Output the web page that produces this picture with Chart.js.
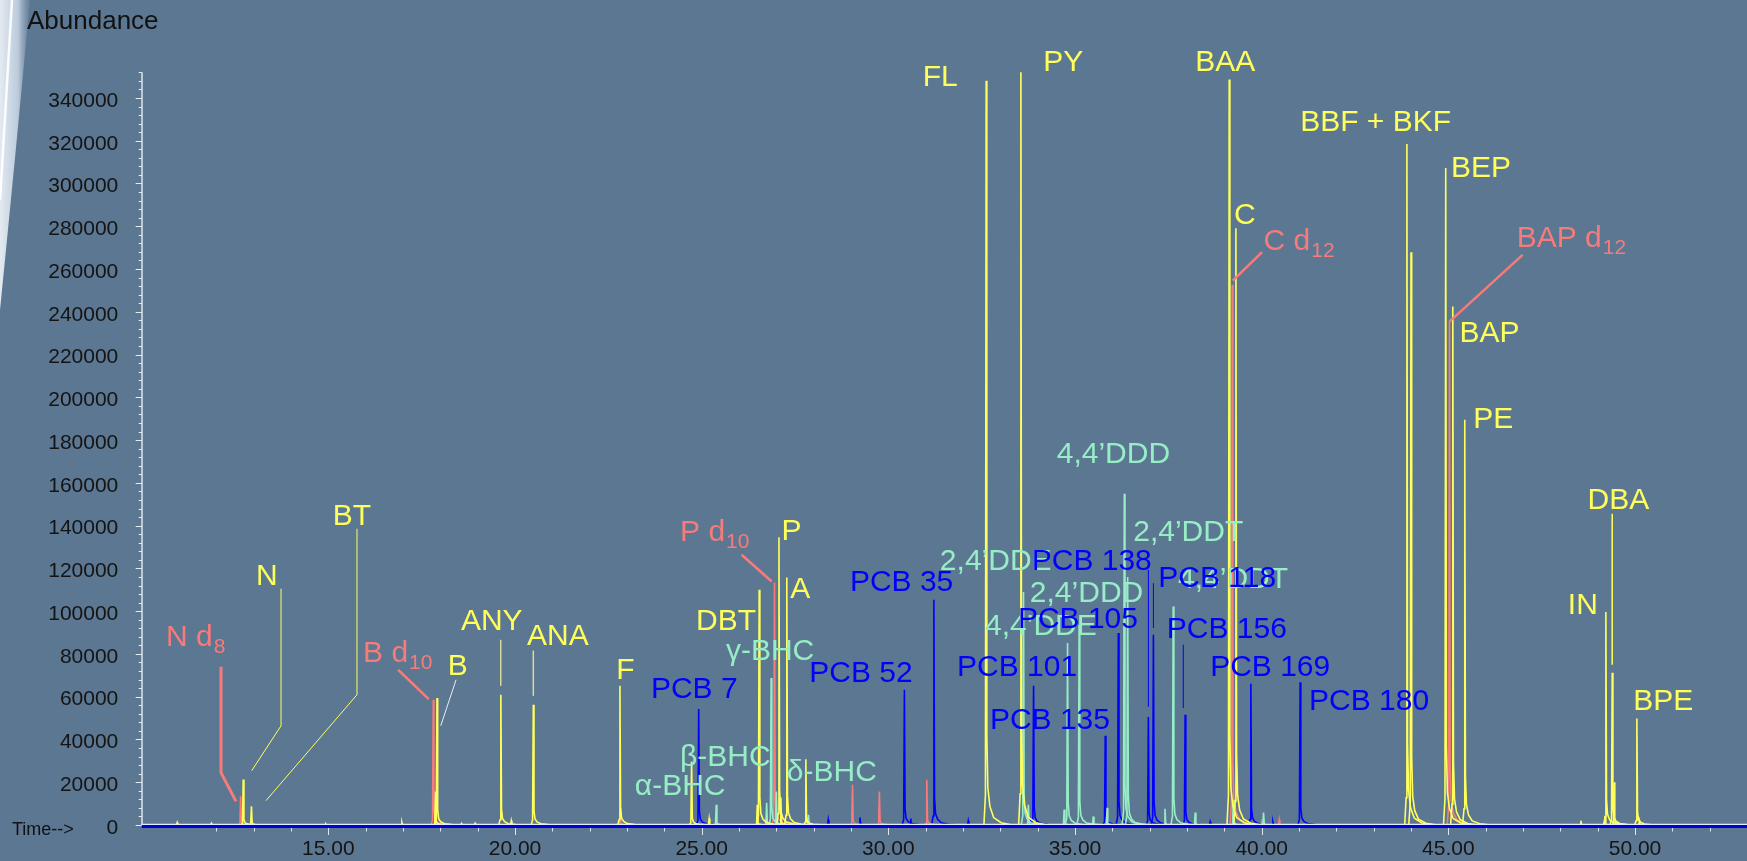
<!DOCTYPE html>
<html>
<head>
<meta charset="utf-8">
<script src="https://cdn.jsdelivr.net/npm/chart.js@4.4.1/dist/chart.umd.min.js"></script>
<style>
  html, body { margin: 0; padding: 0; background: #5c7791; }
  #wrap { width: 1747px; height: 861px; position: relative; overflow: hidden; }
</style>
</head>
<body>
<div id="wrap"><canvas id="c" width="1747" height="861"></canvas></div>
<script>
// ---- Peak tables: retention time (min) and abundance per ion trace ----
const pahTimes = [10.95, 11.87, 12.72, 12.94, 14.93, 16.97, 17.87, 17.91, 18.57, 18.93,
  19.62, 19.90, 20.49, 22.81, 24.73, 25.20, 26.49, 26.54, 27.07, 27.12, 27.28, 27.79,
  32.62, 33.55, 39.13, 39.31, 43.89, 44.00, 44.93, 45.12, 45.44, 48.55, 49.20, 49.22,
  49.39, 49.44, 50.05, 50.12];
const pahAbundance = [1200, 800, 21300, 8700, 500, 1300, 15700, 59400, 700, 800,
  60900, 2000, 56200, 65100, 29700, 3000, 9500, 110000, 134600, 12800, 115700, 30800,
  348000, 365000, 348600, 279100, 318500, 267900, 307200, 242500, 189500, 2000, 4000, 99600,
  71200, 20000, 49800, 2000];

const deuteratedTimes = [12.65, 17.81, 22.82, 26.95, 27.14, 29.04, 29.76, 31.03, 39.21, 40.00, 40.47, 45.03];
const deuteratedAbundance = [13400, 58600, 8000, 113400, 2500, 18800, 15700, 21200, 252600, 1500, 2500, 235500];

const pesticideTimes = [25.39, 26.74, 26.86, 27.00, 27.86, 33.62, 33.75, 34.71, 34.80, 35.11,
  35.49, 35.86, 36.32, 36.41, 37.41, 37.63, 38.22, 39.24, 40.05];
const pesticideAbundance = [9500, 10400, 68700, 15700, 4800, 109000, 9500, 7200, 85100, 93600,
  4000, 8000, 154900, 116000, 7600, 102200, 5800, 11800, 5800];

const pcbTimes = [24.92, 28.39, 29.24, 30.43, 30.60, 31.22, 32.14, 33.80, 33.89, 35.81,
  36.16, 36.965, 37.10, 37.95, 38.62, 39.71, 40.30, 41.03];
const pcbAbundance = [54200, 2500, 3500, 63300, 3000, 105300, 2000, 2000, 65100, 41700,
  89800, 50500, 89000, 51600, 1500, 66100, 1500, 66700];

// axis tick values
const yLabelValues = [0, 20000, 40000, 60000, 80000, 100000, 120000, 140000, 160000, 180000,
  200000, 220000, 240000, 260000, 280000, 300000, 320000, 340000];
const xLabelValues = [15, 20, 25, 30, 35, 40, 45, 50];

// ---- styling ----
const BG = '#5c7791';
const COLORS = {
  yellow: '#ffff5c',
  salmon: '#f77b7b',
  mint: '#97eec6',
  blue: '#0000ff',
  pale: '#d9dc98',
  white: '#e6edf5'
};
const FONT = '"Liberation Sans", Arial, Helvetica, sans-serif';

// shape of one chromatographic peak (time offset in min, fraction of apex)
const PROFILE = [[-0.06, 0], [-0.02, 0.04], [0, 1], [0.018, 0.12], [0.045, 0.05],
  [0.1, 0.025], [0.2, 0.01], [0.4, 0.003], [0.7, 0]];

function peakPoints(rt, h) {
  return PROFILE.map(([dt, f]) => ({ x: rt + dt, y: h * f }));
}

const traces = [
  { times: pahTimes, values: pahAbundance, color: COLORS.yellow },
  { times: pesticideTimes, values: pesticideAbundance, color: COLORS.mint },
  { times: deuteratedTimes, values: deuteratedAbundance, color: COLORS.salmon },
  { times: pcbTimes, values: pcbAbundance, color: COLORS.blue }
];

const datasets = [];
traces.forEach(tr => {
  tr.times.forEach((t, i) => {
    datasets.push({
      data: peakPoints(t, tr.values[i]),
      borderColor: tr.color,
      borderWidth: 1.6,
      pointRadius: 0,
      tension: 0,
      fill: false
    });
  });
});

// ---- compound labels (anchor: left end of text, baseline), in data units ----
const peakLabels = [
  { text: 'N d', sub: '8', color: 'salmon', t: 10.65, a: 83800 },
  { text: 'N', color: 'yellow', t: 13.06, a: 112300 },
  { text: 'BT', color: 'yellow', t: 15.12, a: 140400 },
  { text: 'B d', sub: '10', color: 'salmon', t: 15.93, a: 76000 },
  { text: 'B', color: 'yellow', t: 18.20, a: 70300 },
  { text: 'ANY', color: 'yellow', t: 18.55, a: 91300 },
  { text: 'ANA', color: 'yellow', t: 20.32, a: 84300 },
  { text: 'F', color: 'yellow', t: 22.71, a: 68300 },
  { text: 'DBT', color: 'yellow', t: 24.85, a: 91300 },
  { text: 'P d', sub: '10', color: 'salmon', t: 24.42, a: 132600 },
  { text: 'P', color: 'yellow', t: 27.14, a: 133400 },
  { text: 'A', color: 'yellow', t: 27.37, a: 106100 },
  { text: 'FL', color: 'yellow', t: 30.92, a: 345600 },
  { text: 'PY', color: 'yellow', t: 34.15, a: 352800 },
  { text: 'BAA', color: 'yellow', t: 38.22, a: 352800 },
  { text: 'C', color: 'yellow', t: 39.26, a: 281000 },
  { text: 'C d', sub: '12', color: 'salmon', t: 40.05, a: 269000 },
  { text: 'BBF + BKF', color: 'yellow', t: 41.03, a: 324600 },
  { text: 'BEP', color: 'yellow', t: 45.07, a: 303200 },
  { text: 'BAP d', sub: '12', color: 'salmon', t: 46.83, a: 270500 },
  { text: 'BAP', color: 'yellow', t: 45.30, a: 226100 },
  { text: 'PE', color: 'yellow', t: 45.67, a: 185600 },
  { text: 'DBA', color: 'yellow', t: 48.73, a: 147700 },
  { text: 'IN', color: 'yellow', t: 48.20, a: 98800 },
  { text: 'BPE', color: 'yellow', t: 49.95, a: 53900 },
  { text: 'α-BHC', color: 'mint', t: 23.21, a: 14200 },
  { text: 'β-BHC', color: 'mint', t: 24.42, a: 27400 },
  { text: 'γ-BHC', color: 'mint', t: 25.65, a: 77300 },
  { text: 'δ-BHC', color: 'mint', t: 27.28, a: 20400 },
  { text: '2,4’DDE', color: 'mint', t: 31.38, a: 119400 },
  { text: '4,4’DDE', color: 'mint', t: 32.59, a: 89000 },
  { text: '2,4’DDD', color: 'mint', t: 33.79, a: 104500 },
  { text: '4,4’DDD', color: 'mint', t: 34.51, a: 169500 },
  { text: '2,4’DDT', color: 'mint', t: 36.56, a: 132600 },
  { text: '4,4’DDT', color: 'mint', t: 37.76, a: 110900 },
  { text: 'PCB 7', color: 'blue', t: 23.64, a: 59400 },
  { text: 'PCB 52', color: 'blue', t: 27.88, a: 67100 },
  { text: 'PCB 35', color: 'blue', t: 28.97, a: 109200 },
  { text: 'PCB 101', color: 'blue', t: 31.84, a: 69500 },
  { text: 'PCB 135', color: 'blue', t: 32.72, a: 44900 },
  { text: 'PCB 138', color: 'blue', t: 33.84, a: 119400 },
  { text: 'PCB 105', color: 'blue', t: 33.47, a: 92100 },
  { text: 'PCB 118', color: 'blue', t: 37.23, a: 111500 },
  { text: 'PCB 156', color: 'blue', t: 37.46, a: 87400 },
  { text: 'PCB 169', color: 'blue', t: 38.62, a: 69800 },
  { text: 'PCB 180', color: 'blue', t: 41.27, a: 53900 }
];

// leader lines joining labels to their peaks, in data units
const leaderLines = [
  { color: 'salmon', w: 3, pts: [[12.124, 74000], [12.124, 24450], [12.526, 11030]] },
  { color: 'yellow', w: 1, pts: [[13.732, 110500], [13.732, 46400], [12.947, 25400]] },
  { color: 'yellow', w: 1, pts: [[15.767, 138500], [15.767, 60900], [13.33, 11400]] },
  { color: 'salmon', w: 2.5, pts: [[16.868, 72600], [17.688, 58900]] },
  { color: 'white', w: 1, pts: [[18.42, 67900], [18.01, 46400]] },
  { color: 'pale', w: 1.5, pts: [[19.617, 86600], [19.617, 65100]] },
  { color: 'pale', w: 1.5, pts: [[20.49, 81600], [20.49, 60400]] },
  { color: 'salmon', w: 2.5, pts: [[26.07, 126400], [26.876, 113900]] },
  { color: 'salmon', w: 2.5, pts: [[40.01, 267900], [39.226, 254600]] },
  { color: 'salmon', w: 2.5, pts: [[46.99, 266600], [45.03, 235400]] },
  { color: 'yellow', w: 1.5, pts: [[49.39, 145500], [49.39, 74900]] },
  { color: 'blue', w: 1, pts: [[36.965, 119400], [36.965, 55300]] },
  { color: 'blue', w: 1, pts: [[37.10, 113100], [37.10, 92100]] },
  { color: 'blue', w: 1, pts: [[37.90, 84300], [37.90, 54700]] }
];

// background, light streak at the left edge, and headings
const backdrop = {
  id: 'backdrop',
  beforeDraw(chart) {
    const ctx = chart.ctx;
    ctx.save();
    ctx.fillStyle = BG;
    ctx.fillRect(0, 0, chart.width, chart.height);
    const g = ctx.createLinearGradient(0, 0, 30, 0);
    g.addColorStop(0, 'rgba(235,240,246,0.95)');
    g.addColorStop(0.6, 'rgba(205,218,232,0.85)');
    g.addColorStop(1, 'rgba(140,165,190,0.2)');
    ctx.fillStyle = g;
    ctx.beginPath();
    ctx.moveTo(0, 0);
    ctx.lineTo(30, 0);
    ctx.quadraticCurveTo(17, 140, 0, 310);
    ctx.closePath();
    ctx.fill();
    ctx.strokeStyle = 'rgba(255,255,255,0.9)';
    ctx.lineWidth = 2.5;
    ctx.beginPath();
    ctx.moveTo(12, 0);
    ctx.quadraticCurveTo(7, 90, 0, 200);
    ctx.stroke();
    ctx.restore();
  },
  afterDraw(chart) {
    const ctx = chart.ctx;
    ctx.save();
    ctx.fillStyle = '#111111';
    ctx.font = '26px ' + FONT;
    ctx.textBaseline = 'alphabetic';
    ctx.fillText('Abundance', 27, 29);
    ctx.font = '18px ' + FONT;
    ctx.textBaseline = 'middle';
    ctx.fillText('Time-->', 12, 830);
    ctx.restore();
  }
};

// axes, tick marks, leader lines and compound labels
const annotate = {
  id: 'annotate',
  afterDatasetsDraw(chart) {
    const ctx = chart.ctx;
    const xs = chart.scales.x, ys = chart.scales.y;
    const area = chart.chartArea;
    ctx.save();

    // leaders
    ctx.lineCap = 'butt';
    leaderLines.forEach(l => {
      ctx.strokeStyle = COLORS[l.color];
      ctx.lineWidth = l.w;
      ctx.beginPath();
      l.pts.forEach(([t, a], i) => {
        const px = xs.getPixelForValue(t), py = ys.getPixelForValue(a);
        if (i === 0) ctx.moveTo(px, py); else ctx.lineTo(px, py);
      });
      ctx.stroke();
    });

    // baseline and x axis
    ctx.strokeStyle = COLORS.white;
    ctx.lineWidth = 1.2;
    ctx.beginPath();
    ctx.moveTo(area.left, area.bottom - 0.6);
    ctx.lineTo(area.right, area.bottom - 0.6);
    ctx.stroke();
    ctx.strokeStyle = '#0000d8';
    ctx.lineWidth = 3;
    ctx.beginPath();
    ctx.moveTo(area.left, area.bottom + 1.6);
    ctx.lineTo(area.right, area.bottom + 1.6);
    ctx.stroke();

    // y axis line
    ctx.strokeStyle = COLORS.white;
    ctx.lineWidth = 1.4;
    ctx.beginPath();
    ctx.moveTo(area.left + 0.3, area.top);
    ctx.lineTo(area.left + 0.3, area.bottom);
    ctx.stroke();

    // y ticks: major every 20000, minor every 4000
    ctx.lineWidth = 1;
    for (let v = 0; v <= ys.max + 1; v += 4000) {
      const py = Math.round(ys.getPixelForValue(v)) + 0.5;
      const len = v % 20000 === 0 ? 6 : 3;
      ctx.beginPath();
      ctx.moveTo(area.left - len, py);
      ctx.lineTo(area.left, py);
      ctx.stroke();
    }
    // x ticks: every minute, longer every five
    ctx.strokeStyle = '#dfe6ee';
    for (let m = 12; m <= 52; m++) {
      const px = Math.round(xs.getPixelForValue(m)) + 0.5;
      const len = m % 5 === 0 ? 7 : 3.5;
      ctx.beginPath();
      ctx.moveTo(px, area.bottom + 3);
      ctx.lineTo(px, area.bottom + 3 + len);
      ctx.stroke();
    }

    // compound labels
    ctx.textBaseline = 'alphabetic';
    ctx.textAlign = 'left';
    peakLabels.forEach(l => {
      const px = xs.getPixelForValue(l.t), py = ys.getPixelForValue(l.a);
      ctx.fillStyle = COLORS[l.color];
      ctx.font = '30px ' + FONT;
      ctx.fillText(l.text, px, py);
      if (l.sub) {
        const w = ctx.measureText(l.text).width;
        ctx.font = '21px ' + FONT;
        ctx.fillText(l.sub, px + w + 1, py + 7);
      }
    });
    ctx.restore();
  }
};

Chart.defaults.font.family = FONT;

new Chart(document.getElementById('c'), {
  type: 'line',
  data: { datasets },
  options: {
    responsive: false,
    devicePixelRatio: 1,
    animation: false,
    events: [],
    layout: { padding: { top: 72.3, left: 0, right: 0, bottom: 0 } },
    plugins: { legend: { display: false }, tooltip: { enabled: false } },
    scales: {
      x: {
        type: 'linear',
        position: 'bottom',
        min: 10,
        max: 53,
        grid: { display: false, drawTicks: false },
        border: { display: false },
        afterFit(s) { s.height = 35.7; },
        afterBuildTicks(s) { s.ticks = xLabelValues.map(v => ({ value: v })); },
        ticks: {
          color: '#141414',
          font: { size: 21 },
          padding: 12,
          maxRotation: 0,
          autoSkip: false,
          callback: v => Number(v).toFixed(2)
        }
      },
      y: {
        type: 'linear',
        min: 0,
        max: 352000,
        grid: { display: false, drawTicks: false },
        border: { display: false },
        afterFit(s) { s.width = 141.7; },
        afterBuildTicks(s) { s.ticks = yLabelValues.map(v => ({ value: v })); },
        ticks: {
          color: '#141414',
          font: { size: 21 },
          padding: 23.4,
          labelOffset: 3,
          autoSkip: false,
          callback: v => String(v)
        }
      }
    }
  },
  plugins: [backdrop, annotate]
});
</script>
</body>
</html>
